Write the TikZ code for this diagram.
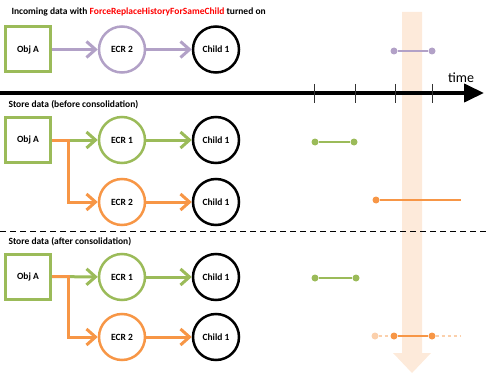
\documentclass[tikz,border=0pt]{standalone}
\usepackage{fontspec}
\setmainfont{Carlito}
\usetikzlibrary{arrows.meta}
\definecolor{objgreen}{RGB}{155,187,89}
\definecolor{ecrpurple}{RGB}{178,161,199}
\definecolor{ecrorange}{RGB}{247,150,70}
\definecolor{bandorange}{RGB}{253,234,218}
\definecolor{fadeorange}{RGB}{251,208,172}

\begin{document}
\begin{tikzpicture}[x=1pt, y=-1pt,
    font=\fontsize{9.5}{11}\selectfont\bfseries,
    obj/.style={draw=objgreen, line width=3pt, minimum size=45pt, inner sep=0pt},
    ecr/.style={circle, draw, line width=2.5pt, minimum size=46pt, inner sep=0pt},
    child/.style={circle, draw=black, line width=2.5pt, minimum size=46pt, inner sep=0pt},
    arrow/.style={-{Straight Barb[length=9pt, width=16pt]}, line width=3pt},
    dot/.style={circle, fill, inner sep=0pt, minimum size=7pt},
    seg/.style={line width=2pt}
]
    \useasboundingbox (0,0) rectangle (486,374);

    % Highlight band
    \fill[bandorange] (402,12) -- (422,12) -- (422,353) -- (431,353) -- (412,373)
        -- (393,353) -- (402,353) -- cycle;

    % Incoming data
    \node[anchor=west] (title) at (8,12) {Incoming data with \textcolor{red}{ForceReplaceHistoryForSameChild} turned on};
    \node[obj] (objA) at (28,49.5) {Obj A};
    \node[ecr, draw=ecrpurple] (ecrIn) at (122,49.5) {ECR 2};
    \node[child] (childIn) at (216,49.5) {Child 1};
    \draw[arrow, ecrpurple] (objA) -- (ecrIn);
    \draw[arrow, ecrpurple] (ecrIn) -- (childIn);

    \node[dot, ecrpurple] (pIn1) at (394,51) {};
    \node[dot, ecrpurple] (pIn2) at (432,51) {};
    \draw[seg, ecrpurple] (pIn1) -- (pIn2);

    % Time axis
    \coordinate (t0) at (0,93);
    \coordinate (t1) at (484,93);
    \draw[line width=4pt, -{Triangle[length=20pt, width=18pt]}] (t0) -- (t1);
    \foreach \x in {314,355,395,432}
        \draw[black!80, line width=1pt] (\x,84) -- (\x,103);
    \node[font=\fontsize{14}{16}\selectfont, anchor=south] (time) at (461,86) {time};

    % Store data (before consolidation)
    \node[anchor=west] (before) at (5,105) {Store data (before consolidation)};
    \node[obj] (objB) at (28,140) {Obj A};
    \node[ecr, draw=objgreen] (ecrB1) at (122,140) {ECR 1};
    \node[child] (childB1) at (216,140) {Child 1};
    \node[ecr, draw=ecrorange] (ecrB2) at (122,202) {ECR 2};
    \node[child] (childB2) at (216,202) {Child 1};
    \draw[arrow, objgreen] (objB) -- (ecrB1);
    \draw[arrow, objgreen] (ecrB1) -- (childB1);
    \draw[arrow, ecrorange] (objB.east) -- ++(16,0) |- (ecrB2.west);
    \draw[arrow, ecrorange] (ecrB2) -- (childB2);

    \node[dot, objgreen] (pB1) at (315,142) {};
    \node[dot, objgreen] (pB2) at (354,142) {};
    \draw[seg, objgreen] (pB1) -- (pB2);
    \node[dot, ecrorange] (pB3) at (376,200) {};
    \coordinate (pB4) at (461,200);
    \draw[seg, ecrorange] (pB3) -- (pB4);

    % Separator
    \coordinate (s0) at (0,231);
    \coordinate (s1) at (486,231);
    \draw[line width=1pt, dash pattern=on 6pt off 4pt] (s0) -- (s1);

    % Store data (after consolidation)
    \node[anchor=west] (after) at (5,242) {Store data (after consolidation)};
    \node[obj] (objC) at (28,276.5) {Obj A};
    \node[ecr, draw=objgreen] (ecrC1) at (122,277) {ECR 1};
    \node[child] (childC1) at (216,277) {Child 1};
    \node[ecr, draw=ecrorange] (ecrC2) at (122,337) {ECR 2};
    \node[child] (childC2) at (216,337) {Child 1};
    \draw[arrow, objgreen] (objC) -- (ecrC1);
    \draw[arrow, objgreen] (ecrC1) -- (childC1);
    \draw[arrow, ecrorange] (objC.east) -- ++(16,0) |- (ecrC2.west);
    \draw[arrow, ecrorange] (ecrC2) -- (childC2);

    \node[dot, objgreen] (pC1) at (315,278) {};
    \node[dot, objgreen] (pC2) at (356,278) {};
    \draw[seg, objgreen] (pC1) -- (pC2);
    \node[dot, fadeorange] (pC3) at (375,336) {};
    \node[dot, ecrorange] (pC4) at (394,336) {};
    \node[dot, ecrorange] (pC5) at (432,336) {};
    \coordinate (pC6) at (460,336);
    \draw[seg, fadeorange, dash pattern=on 3pt off 3pt] (pC3) -- (pC4);
    \draw[seg, ecrorange] (pC4) -- (pC5);
    \draw[seg, fadeorange, dash pattern=on 3pt off 3pt] (pC5) -- (pC6);
\end{tikzpicture}
\end{document}
